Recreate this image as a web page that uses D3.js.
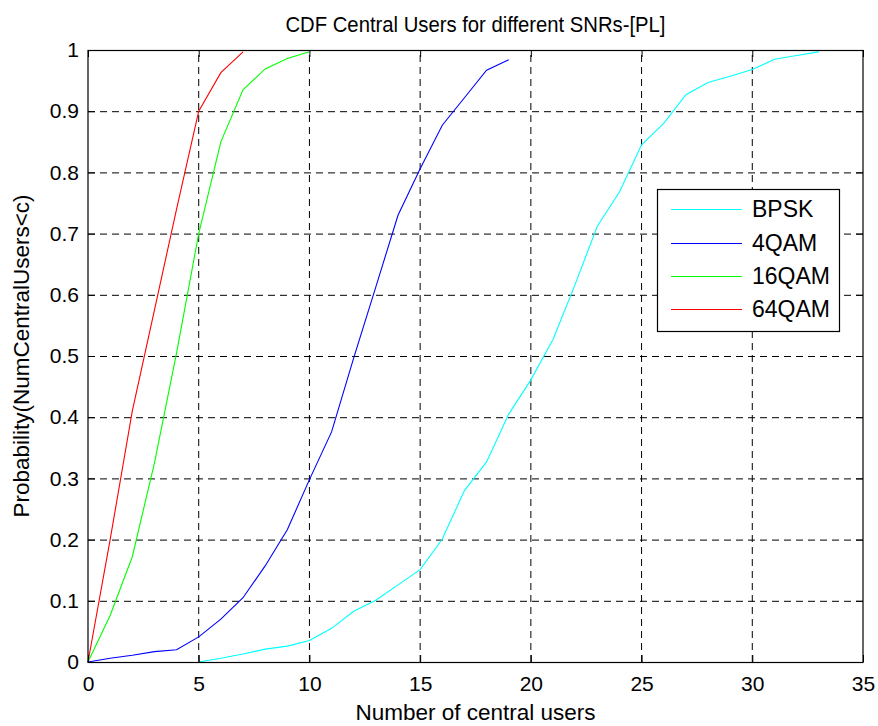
<!DOCTYPE html>
<html>
<head>
<meta charset="utf-8">
<script src="https://cdn.jsdelivr.net/npm/d3@7"></script>
<style>
  html, body { margin: 0; padding: 0; background: #ffffff; }
  svg { display: block; }
  text { font-family: "Liberation Sans", Arial, Helvetica, sans-serif; fill: #000; }
</style>
</head>
<body>
<svg id="chart" width="878" height="726"></svg>
<script>
// CDF of the number of central users, one curve per modulation scheme
const xTicks = [0, 5, 10, 15, 20, 25, 30, 35];
const yTicks = [0, 0.1, 0.2, 0.3, 0.4, 0.5, 0.6, 0.7, 0.8, 0.9, 1];

const bpskX = [5, 6, 7, 8, 9, 10, 11, 12, 13, 14, 15, 16, 17, 18, 19, 20, 21, 22, 23, 24, 25, 26, 27, 28, 29, 30, 31, 32, 33];
const bpskY = [0, 0.006, 0.013, 0.021, 0.026, 0.035, 0.055, 0.083, 0.101, 0.126, 0.151, 0.201, 0.28, 0.327, 0.405, 0.461, 0.527, 0.617, 0.712, 0.768, 0.845, 0.88, 0.927, 0.947, 0.957, 0.968, 0.985, 0.991, 0.997];

const qam4X = [0, 1, 2, 3, 4, 5, 6, 7, 8, 9, 10, 11, 12, 13, 14, 15, 16, 17, 18, 19];
const qam4Y = [0, 0.006, 0.011, 0.017, 0.02, 0.041, 0.07, 0.105, 0.157, 0.216, 0.298, 0.376, 0.497, 0.613, 0.73, 0.806, 0.877, 0.922, 0.967, 0.984];

const qam16X = [0, 1, 2, 3, 4, 5, 6, 7, 8, 9, 10];
const qam16Y = [0, 0.076, 0.172, 0.325, 0.505, 0.7, 0.85, 0.935, 0.969, 0.986, 0.997];

const qam64X = [0, 1, 2, 3, 4, 5, 6, 7];
const qam64Y = [0, 0.2, 0.41, 0.575, 0.74, 0.9, 0.963, 0.997];

const seriesNames = ["BPSK", "4QAM", "16QAM", "64QAM"];
const seriesColors = ["#00ffff", "#0000ff", "#00ff00", "#ff0000"];

const series = [
  { name: seriesNames[0], color: seriesColors[0], pts: d3.zip(bpskX, bpskY) },
  { name: seriesNames[1], color: seriesColors[1], pts: d3.zip(qam4X, qam4Y) },
  { name: seriesNames[2], color: seriesColors[2], pts: d3.zip(qam16X, qam16Y) },
  { name: seriesNames[3], color: seriesColors[3], pts: d3.zip(qam64X, qam64Y) }
];

const svg = d3.select("#chart");
const plot = { left: 88, right: 863, top: 50, bottom: 662 };

svg.append("rect").attr("width", 878).attr("height", 726).attr("fill", "#ffffff");

const x = d3.scaleLinear().domain([0, 35]).range([plot.left, plot.right]);
const y = d3.scaleLinear().domain([0, 1]).range([plot.bottom, plot.top]);

// dashed grid
const grid = svg.append("g").attr("stroke", "#000").attr("stroke-width", 1)
  .attr("stroke-dasharray", "7,5").attr("fill", "none");
grid.selectAll("line.vx").data(xTicks.slice(1, -1)).join("line")
  .attr("x1", d => x(d)).attr("x2", d => x(d))
  .attr("y1", plot.bottom).attr("y2", plot.top);
grid.selectAll("line.hy").data(yTicks.slice(1, -1)).join("line")
  .attr("x1", plot.left).attr("x2", plot.right)
  .attr("y1", d => y(d) + 0.5).attr("y2", d => y(d) + 0.5);

// curves
const line = d3.line().x(d => x(d[0])).y(d => y(d[1]));
svg.append("g").selectAll("path").data(series).join("path")
  .attr("d", d => line(d.pts))
  .attr("fill", "none")
  .attr("stroke", d => d.color)
  .attr("stroke-width", 1.1);

// axes with inward ticks, box on all four sides
const tickLen = 7;
const fmtY = d => d3.format("")(d);
const axB = d3.axisBottom(x).tickValues(xTicks).tickSizeInner(-tickLen).tickSizeOuter(0).tickPadding(14);
const axL = d3.axisLeft(y).tickValues(yTicks).tickSizeInner(-tickLen).tickSizeOuter(0).tickPadding(9).tickFormat(fmtY);
const axT = d3.axisTop(x).tickValues(xTicks).tickSizeInner(-tickLen).tickSizeOuter(0).tickFormat("");
const axR = d3.axisRight(y).tickValues(yTicks).tickSizeInner(-tickLen).tickSizeOuter(0).tickFormat("");

function styleAxis(g) {
  g.select(".domain").remove();
  g.selectAll(".tick line").attr("stroke", "#000");
  g.selectAll(".tick text").attr("font-size", 21).attr("fill", "#000")
    .attr("font-family", '"Liberation Sans", Arial, sans-serif');
}
svg.append("g").attr("transform", `translate(0,${plot.bottom})`).call(axB).call(styleAxis);
svg.append("g").attr("transform", `translate(${plot.left},0)`).call(axL).call(styleAxis);
svg.append("g").attr("transform", `translate(0,${plot.top})`).call(axT).call(styleAxis);
svg.append("g").attr("transform", `translate(${plot.right},0)`).call(axR).call(styleAxis);

svg.append("rect")
  .attr("x", plot.left).attr("y", plot.top + 0.5)
  .attr("width", plot.right - plot.left).attr("height", plot.bottom - plot.top)
  .attr("fill", "none").attr("stroke", "#000").attr("stroke-width", 1.2);

// title and axis labels
svg.append("text")
  .attr("x", (plot.left + plot.right) / 2).attr("y", 32)
  .attr("text-anchor", "middle").attr("font-size", 22)
  .attr("textLength", 380).attr("lengthAdjust", "spacingAndGlyphs")
  .text("CDF Central Users for different SNRs-[PL]");

svg.append("text")
  .attr("x", (plot.left + plot.right) / 2).attr("y", 720)
  .attr("text-anchor", "middle").attr("font-size", 22.5)
  .text("Number of central users");

svg.append("text")
  .attr("transform", `translate(29,${(plot.top + plot.bottom) / 2}) rotate(-90)`)
  .attr("text-anchor", "middle").attr("font-size", 22.5)
  .text("Probability(NumCentralUsers<c)");

// legend
const lg = { x: 657, y: 189, w: 182, h: 142 };
const legend = svg.append("g");
legend.append("rect")
  .attr("x", lg.x + 0.5).attr("y", lg.y + 0.5).attr("width", lg.w).attr("height", lg.h)
  .attr("fill", "#fff").attr("stroke", "#000").attr("stroke-width", 1.2);
const rowY = [209, 243, 276, 309];
const rows = legend.selectAll("g.row").data(series).join("g")
  .attr("transform", (d, i) => `translate(0,${rowY[i]})`);
rows.append("line")
  .attr("x1", 671).attr("x2", 742).attr("y1", 0.5).attr("y2", 0.5)
  .attr("stroke", d => d.color).attr("stroke-width", 1.1);
rows.append("text")
  .attr("x", 752).attr("y", 8).attr("font-size", 23)
  .text(d => d.name);
</script>
</body>
</html>
